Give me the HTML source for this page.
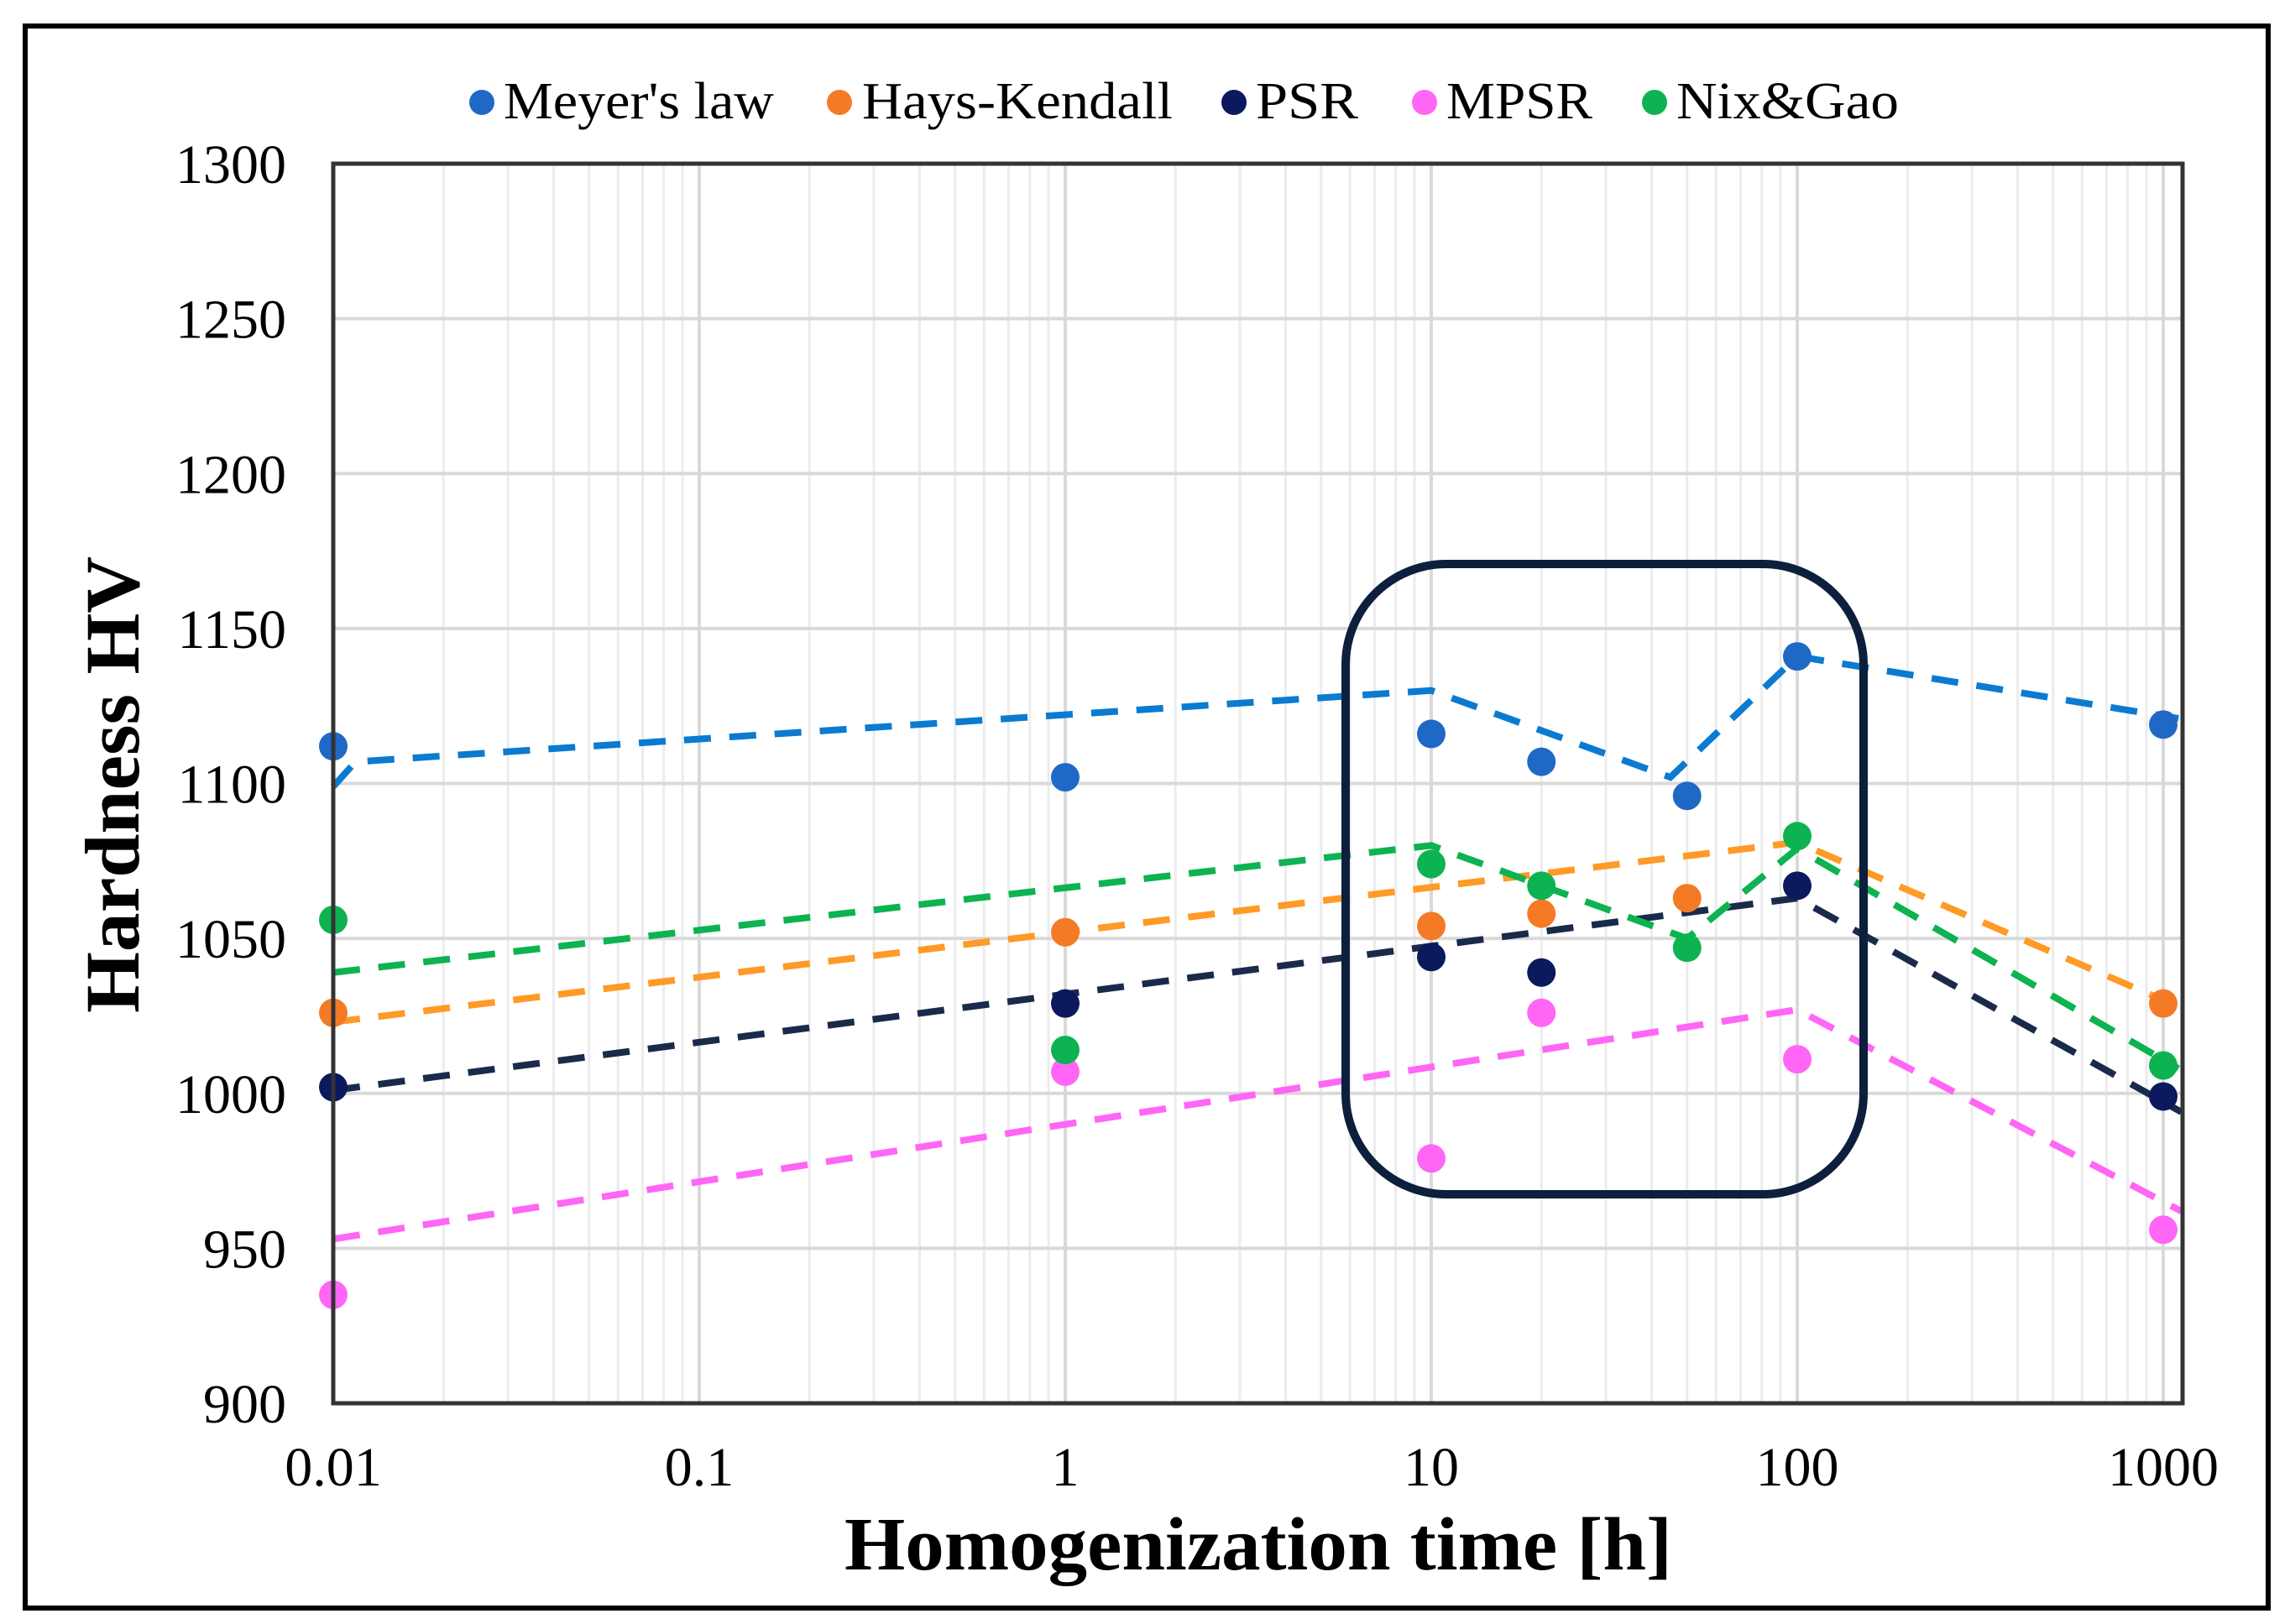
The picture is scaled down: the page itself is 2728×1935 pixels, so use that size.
<!DOCTYPE html>
<html><head><meta charset="utf-8">
<style>
html,body{margin:0;padding:0;background:#fff;}
svg{display:block;font-family:"Liberation Serif",serif;}
</style></head>
<body>
<svg id="chart" width="2728" height="1935" viewBox="0 0 2728 1935" xmlns="http://www.w3.org/2000/svg">
  <rect x="30" y="31" width="2672" height="1885" fill="#fff" stroke="#000" stroke-width="6"/>
  <g id="grid"></g>
  <g id="series"></g>
  <rect x="397" y="195" width="2203" height="1477" fill="none" stroke="#333" stroke-width="5"/>
  <rect x="1603" y="672" width="617" height="751" rx="120" ry="120" fill="none" stroke="#0d1f3c" stroke-width="10"/>
  <g id="axes"></g>
  <text transform="translate(165,935) rotate(-90)" text-anchor="middle" font-size="92" font-weight="bold" textLength="544" lengthAdjust="spacingAndGlyphs">Hardness HV</text>
  <text x="1499" y="1870" text-anchor="middle" font-size="90" font-weight="bold" textLength="986" lengthAdjust="spacingAndGlyphs">Homogenization time [h]</text>
  <g id="legend"></g>
</svg>
<script>
const NS="http://www.w3.org/2000/svg";
const xTicks=[0.01,0.1,1,10,100,1000];
const xTickLabels=["0.01","0.1","1","10","100","1000"];
const yTicks=[900,950,1000,1050,1100,1150,1200,1250,1300];
const seriesNames=["Meyer's law","Hays-Kendall","PSR","MPSR","Nix&Gao"];
const seriesColors=["#2068c6","#f57a26","#0b1a5c","#ff66f5","#0db350"];
const lineColors=["#0a7bd0","#ff9a26","#1a2a4a","#ff66f5","#0db350"];
const ptX=[0.01,1,10,20,50,100,1000];
const meyerPts=[1112,1102,1116,1107,1096,1141,1119];
const haysPts=[1026,1052,1054,1058,1063,null,1029];
const psrPts=[1002,1029,1044,1039,null,1067,999];
const mpsrPts=[935,1007,979,1026,null,1011,956];
const nixPts=[1056,1014,1074,1067,1047,1083,1009];
const meyerLineX=[0.01,0.0115,10,45,100,1100];
const meyerLine=[1099,1107,1130,1102,1141,1121];
const haysLineX=[0.01,100,1100];
const haysLine=[1023,1081,1028];
const psrLineX=[0.01,100,1120];
const psrLine=[1001,1063,994];
const mpsrLineX=[0.01,100,1120];
const mpsrLine=[953,1027,962];
const nixLineX=[0.01,10,50,100,1100];
const nixLine=[1039,1080,1050,1079,1008];
const allPts=[meyerPts,haysPts,psrPts,mpsrPts,nixPts];
const allLX=[meyerLineX,haysLineX,psrLineX,mpsrLineX,nixLineX];
const allLY=[meyerLine,haysLine,psrLine,mpsrLine,nixLine];

const L=397,R=2600,T=195,B=1672,DEC=436;
const xs=v=>L+(Math.log10(v)+2)*DEC;
const ys=v=>B-(v-900)/400*(B-T);
function mk(tag,attrs,parent){const e=document.createElementNS(NS,tag);for(const k in attrs)e.setAttribute(k,attrs[k]);parent.appendChild(e);return e;}
const grid=document.getElementById('grid'),axes=document.getElementById('axes'),ser=document.getElementById('series'),leg=document.getElementById('legend');
for(let d=-2;d<4;d++){for(let m=2;m<=9;m++){const x=xs(m*Math.pow(10,d));if(x>=R)continue;
 const g=mk('line',{x1:x,x2:x,y1:T,y2:B,stroke:'#ececec','stroke-width':3},grid);
 
 }}
xTicks.forEach((t,i)=>{const x=xs(t);
 const g=mk('line',{x1:x,x2:x,y1:T,y2:B,stroke:'#d9d9d9','stroke-width':4},grid);
 
 
 const tx=mk('text',{x:x,y:1770,'text-anchor':'middle','font-size':66},axes);tx.textContent=xTickLabels[i];
 
 });
yTicks.forEach(t=>{const y=ys(t);
 const g=mk('line',{x1:L,x2:R,y1:y,y2:y,stroke:'#d9d9d9','stroke-width':4},grid);
 
 
 const tx=mk('text',{x:341,y:y+23,'text-anchor':'end','font-size':66},axes);tx.textContent=String(t);
 
 });
allPts.forEach((pts,s)=>{
 const d=allLX[s].map((v,i)=>(i?'L':'M')+xs(v)+' '+ys(allLY[s][i])).join(' ');
 const p=mk('path',{d:d,fill:'none',stroke:lineColors[s],'stroke-width':8,'stroke-dasharray':'32 22'},ser);
 
 
});
allPts.forEach((pts,s)=>{
 pts.forEach((v,i)=>{if(v===null)return;const c=mk('circle',{cx:xs(ptX[i]),cy:ys(v),r:17,fill:seriesColors[s]},ser);
  
  });
});
const legDot=[574,1000,1470,1697,1971],legTx=[600,1027,1496,1723,1997],legW=[322,370,122,174,265];
seriesNames.forEach((n,i)=>{
 const c=mk('circle',{cx:legDot[i],cy:122,r:15,fill:seriesColors[i]},leg);
 
 
 const t=mk('text',{x:legTx[i],y:141,'font-size':62,textLength:legW[i],lengthAdjust:'spacingAndGlyphs'},leg);t.textContent=n;
 
 
});
</script>
</body></html>
